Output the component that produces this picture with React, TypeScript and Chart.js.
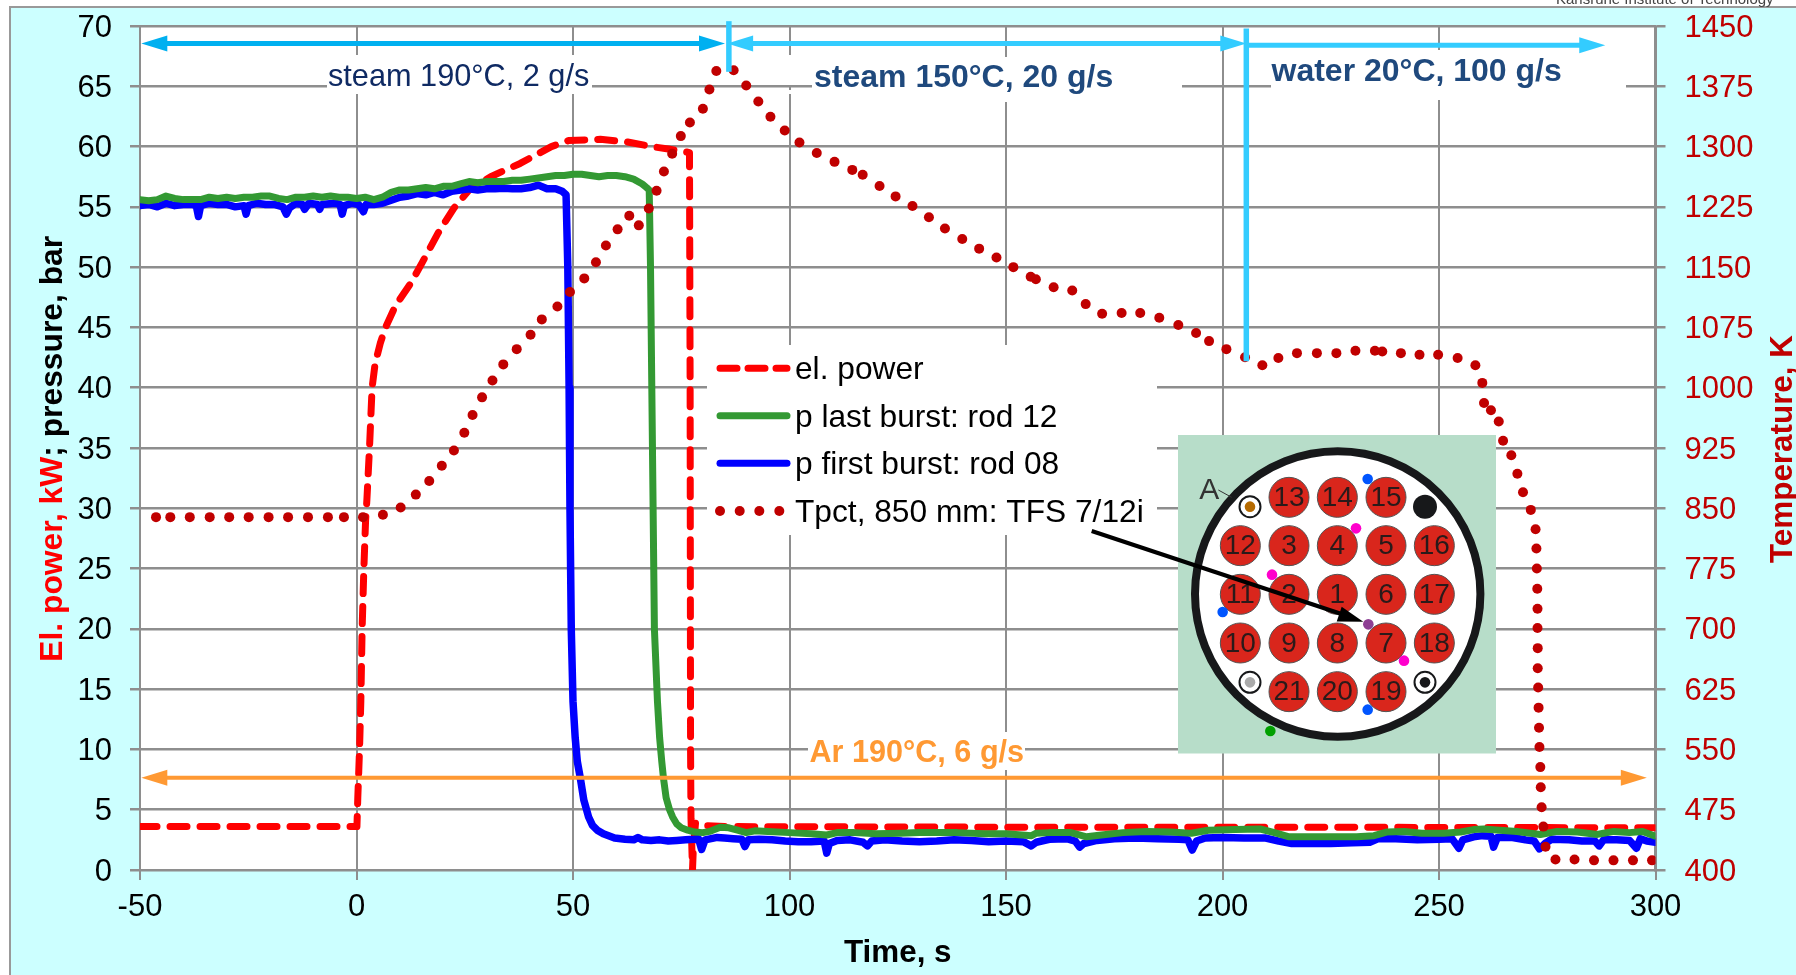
import React, { useEffect, useRef } from "react";
import { Chart, registerables } from "chart.js";

Chart.register(...registerables);

const FONT = '"Liberation Sans", Arial, sans-serif';

const powerTime = [-50, 0, 0.1, 0.3, 0.7, 1, 1.3, 1.7, 2.1, 2.4, 3, 3.6, 4.3, 5.5, 6.7, 9, 12.6, 15.2, 18.8, 22.5, 26, 31, 34, 37.8, 45, 49, 56.3, 62.3, 68.2, 72, 75.5, 76.9, 77.05, 77.15, 77.25, 77.6, 77.8, 78.3, 80, 85, 150, 220, 300];
const powerValue = [3.6, 3.6, 3.6, 6, 10, 14, 20, 25, 29, 30.7, 35, 40, 42, 43.7, 45, 46.8, 48.7, 50.4, 52.8, 54.9, 56.4, 57.5, 58, 58.6, 60, 60.5, 60.6, 60.4, 60, 59.8, 59.6, 59.5, 40, 10, 4.3, 0, 1.9, 3.9, 3.7, 3.6, 3.55, 3.55, 3.5];

const lastBurstTime = [-50, -48, -46, -44, -42, -40, -38, -36, -34, -32, -30, -28, -26, -24, -22, -20, -18, -16, -14, -12, -10, -8, -6, -4, -2, 0, 2, 4, 6, 8, 10, 12, 14, 16, 18, 20, 22, 24, 26, 28, 30, 32, 34, 36, 38, 40, 42, 44, 46, 48, 50, 52, 54, 56, 58, 60, 62, 64, 66, 67, 67.6, 67.9, 68.2, 68.5, 68.8, 69.5, 70, 70.5, 70.9, 71.5, 72.3, 73, 74, 75, 76.5, 78.1, 80, 81.5, 84, 86, 88, 90, 92, 95, 100, 105, 108.6, 111, 115, 120, 125.6, 130, 138.8, 145, 150, 155.9, 157, 160, 165, 168.6, 172, 177, 182.5, 188, 192.8, 196.7, 203, 208.7, 212, 215.4, 222, 231, 235, 237.9, 242, 246, 251, 255, 258, 260.3, 264, 268, 273.4, 277.3, 282, 286.6, 288, 290.4, 294, 297, 300];
const lastBurstValue = [55.6, 55.5, 55.6, 55.9, 55.7, 55.6, 55.6, 55.6, 55.8, 55.7, 55.8, 55.7, 55.8, 55.8, 55.9, 55.9, 55.7, 55.6, 55.8, 55.8, 55.9, 55.8, 55.9, 55.8, 55.8, 55.7, 55.8, 55.6, 55.8, 56.2, 56.4, 56.4, 56.5, 56.6, 56.5, 56.7, 56.7, 56.9, 57.1, 57, 57.1, 57.1, 57.1, 57.2, 57.2, 57.3, 57.4, 57.5, 57.6, 57.6, 57.7, 57.7, 57.6, 57.5, 57.6, 57.6, 57.5, 57.3, 56.9, 56.6, 56.4, 50, 40, 30, 20, 14, 11, 9, 7.6, 6, 5, 4.4, 3.8, 3.5, 3.3, 3.15, 3.1, 3.2, 3.55, 3.5, 3.3, 3.1, 3.25, 3.2, 3.1, 3, 2.9, 3.1, 3.1, 3, 3.05, 3.1, 3.1, 3, 3, 2.85, 3.05, 3.1, 3.1, 2.75, 2.9, 3.1, 3.2, 3.15, 3.05, 3.3, 3.35, 3.4, 3.1, 2.75, 2.75, 2.75, 2.85, 3.15, 3.2, 3.05, 3.05, 3.15, 3.35, 3.4, 3.3, 3.2, 2.95, 3.2, 3.15, 2.95, 3.05, 3.2, 3.1, 3.2, 2.8];

const firstBurstTime = [-50, -48, -46, -44, -42, -40, -38, -37, -36.5, -36, -34, -32, -30, -28, -26, -25.5, -25, -23, -21, -19, -17, -16.2, -15.5, -14, -12.5, -12, -11, -9, -8.5, -8, -5, -3.8, -3.3, -2.8, -1, 0.5, 1.6, 2.2, 4, 6, 8, 10, 12, 14, 16, 18, 20, 22, 24, 26, 28, 30, 32, 34, 36, 38, 40, 42, 44, 46, 47.5, 48.4, 48.8, 49.1, 49.3, 49.6, 50, 50.5, 51, 51.7, 52.5, 53.6, 54.5, 55.6, 57, 59.6, 62, 64, 65, 66, 68, 70, 72, 74, 76, 78, 79, 79.7, 80.5, 83.3, 85, 87, 89, 89.7, 90.5, 93, 96, 99, 102, 105, 108, 108.6, 109.2, 111, 114, 117, 118, 119, 122, 126, 130, 134, 138, 142, 146, 150, 154, 155.8, 157, 160, 164, 166, 167, 168, 171, 175, 180, 185, 190, 192, 193, 194, 196, 200, 205, 210, 213, 216, 220, 225, 230, 234, 236, 240, 245, 250, 253, 254.6, 255.5, 258, 260, 262, 262.6, 263.5, 267, 270, 272, 273.2, 274.5, 276, 280, 283, 286, 287, 288, 291, 294, 295.6, 296.5, 298, 300];
const firstBurstValue = [55.1, 55.2, 55, 55.3, 55.1, 55.2, 55.2, 55.1, 54.2, 55.1, 55.3, 55.2, 55.2, 55, 55.1, 54.4, 55.1, 55.3, 55.2, 55.2, 55, 54.4, 54.9, 55.3, 55.2, 54.8, 55.3, 55.2, 54.8, 55.2, 55.3, 55.2, 54.4, 55.1, 55.3, 55.2, 54.6, 55.2, 55.2, 55.3, 55.55, 55.8, 55.9, 56.1, 56, 56.2, 56, 56.3, 56.4, 56.5, 56.4, 56.5, 56.5, 56.55, 56.5, 56.5, 56.6, 56.8, 56.5, 56.5, 56.3, 56, 50, 40, 30, 20, 14, 11, 9, 7.6, 5.8, 4.4, 3.7, 3.3, 3, 2.65, 2.55, 2.5, 2.7, 2.5, 2.45, 2.5, 2.4, 2.45, 2.5, 2.55, 2.6, 1.7, 2.5, 2.7, 2.65, 2.6, 2.55, 1.95, 2.5, 2.55, 2.5, 2.4, 2.35, 2.35, 2.4, 1.4, 2.2, 2.45, 2.5, 2.3, 2, 2.4, 2.5, 2.4, 2.35, 2.4, 2.5, 2.45, 2.35, 2.4, 2.35, 2, 2.3, 2.55, 2.6, 2.4, 1.9, 2.2, 2.45, 2.6, 2.65, 2.6, 2.55, 2.5, 1.65, 2.4, 2.65, 2.7, 2.65, 2.65, 2.4, 2.2, 2.2, 2.2, 2.25, 2.3, 2.6, 2.6, 2.5, 2.55, 2.6, 1.8, 2.5, 2.75, 2.85, 2.8, 1.9, 2.7, 2.7, 2.5, 2.4, 1.75, 2.2, 2.55, 2.5, 2.4, 2.4, 2, 2.5, 2.5, 2.45, 1.8, 2.6, 2.4, 2.3];

const tpctTime = [-46.3, -43, -38.5, -33.9, -29.4, -24.9, -20.3, -15.8, -11.2, -6.6, -2.9, 1.5, 6.1, 10.2, 13.7, 16.8, 19.7, 22.5, 24.9, 26.8, 29, 31.4, 33.9, 37, 40.2, 42.8, 46.4, 49.3, 52.6, 55.3, 57.6, 60.3, 63, 65.2, 67.5, 69.3, 71, 72.9, 74.9, 77, 80, 81.5, 83.1, 87.1, 90, 92.8, 95.6, 98.9, 102.3, 106.3, 110.4, 114.5, 116.9, 120.8, 124.5, 128.4, 132.2, 135.9, 139.9, 143.8, 147.8, 151.7, 155.7, 156.9, 161, 165.3, 168.4, 172.2, 176.7, 181, 185.4, 189.8, 193.9, 196.9, 200.9, 205.2, 209.2, 212.9, 217.2, 221.8, 226.3, 230.7, 235.2, 236.9, 241.2, 245.5, 249.8, 254.3, 258.4, 260, 260.4, 262, 263.8, 264.8, 266.7, 268.1, 269.4, 271.2, 272.3, 272.5, 272.6, 272.7, 272.75, 272.75, 272.8, 272.8, 272.9, 273, 273.1, 273.2, 273.4, 273.5, 273.7, 274.1, 274.6, 276.9, 281.3, 285.8, 290.3, 294.8, 299.2];
const tpctValue = [839, 839, 839, 839, 839, 839, 839, 839, 839, 839, 839, 839, 842, 851, 867, 884, 903, 922, 944, 966, 988, 1009, 1029, 1048, 1066, 1085, 1101, 1119, 1136, 1156, 1177, 1197, 1214, 1202, 1223, 1245, 1269, 1291, 1313, 1330, 1347, 1371, 1394, 1395, 1376, 1356, 1337, 1320, 1305, 1292, 1281, 1271, 1265, 1251, 1238, 1226, 1212, 1198, 1185, 1173, 1162, 1150, 1138, 1135, 1125, 1121, 1104, 1092, 1093, 1093, 1087, 1078, 1068, 1058, 1048, 1038, 1028, 1037, 1043, 1043, 1043, 1046, 1046, 1045, 1043, 1041, 1041, 1037, 1028, 1006, 981, 972, 958, 934, 916, 893, 870, 848, 824, 800, 775, 750, 725, 701, 676, 651, 627, 602, 577, 553, 528, 503, 478, 454, 429, 413, 413, 412, 412, 412, 412];

const timeTicks = [-50, 0, 50, 100, 150, 200, 250, 300];
const rodRows = [
  [null, "13", "14", "15", null],
  ["12", "3", "4", "5", "16"],
  ["11", "2", "1", "6", "17"],
  ["10", "9", "8", "7", "18"],
  [null, "21", "20", "19", null],
];
const legendLabels = ["el. power", "p last burst: rod 12", "p first burst: rod 08", "Tpct, 850 mm: TFS 7/12i"];

const points = (xs: number[], ys: number[]) => xs.map((x, i) => ({ x, y: ys[i] }));

function head(ctx: CanvasRenderingContext2D, tipX: number, tipY: number, dir: number, color: string) {
  ctx.fillStyle = color;
  ctx.beginPath();
  ctx.moveTo(tipX, tipY);
  ctx.lineTo(tipX - dir * 26, tipY - 8);
  ctx.lineTo(tipX - dir * 26, tipY + 8);
  ctx.closePath();
  ctx.fill();
}

function hArrow(chart: any, t1: number, t2: number, level: number, color: string, width: number, both: boolean) {
  const { ctx, scales } = chart;
  const a = scales.x.getPixelForValue(t1);
  const b = scales.x.getPixelForValue(t2);
  const y = scales.y.getPixelForValue(level);
  ctx.strokeStyle = color;
  ctx.lineWidth = width;
  ctx.beginPath();
  ctx.moveTo(a + (both ? 20 : 0), y);
  ctx.lineTo(b - 20, y);
  ctx.stroke();
  head(ctx, b, y, 1, color);
  if (both) head(ctx, a, y, -1, color);
}

function vMark(chart: any, t: number, from: number, to: number, color: string) {
  const { ctx, scales } = chart;
  const x = scales.x.getPixelForValue(t);
  ctx.strokeStyle = color;
  ctx.lineWidth = 5.5;
  ctx.beginPath();
  ctx.moveTo(x, scales.y.getPixelForValue(from));
  ctx.lineTo(x, scales.y.getPixelForValue(to));
  ctx.stroke();
}

function label(ctx: CanvasRenderingContext2D, text: string, x: number, y: number, font: string, color: string) {
  ctx.font = font;
  ctx.fillStyle = color;
  ctx.textAlign = "left";
  ctx.textBaseline = "alphabetic";
  ctx.fillText(text, x, y);
}

function drawInset(ctx: CanvasRenderingContext2D) {
  const zx = (v: number) => 1150 + v / 3;
  const zy = (v: number) => 420 + v / 3;
  ctx.fillStyle = "#B7DDC9";
  ctx.fillRect(1178, 435, 318, 318.5);
  ctx.beginPath();
  ctx.arc(1337.7, 594, 142.7, 0, Math.PI * 2);
  ctx.fillStyle = "#FFFFFF";
  ctx.fill();
  ctx.strokeStyle = "#17181A";
  ctx.lineWidth = 8;
  ctx.stroke();

  const cols = [271, 417, 562, 708, 853];
  const rows = [232, 377, 523, 669, 815];
  ctx.textAlign = "center";
  ctx.textBaseline = "middle";
  rodRows.forEach((row, r) =>
    row.forEach((name, c) => {
      if (!name) return;
      ctx.beginPath();
      ctx.arc(zx(cols[c]), zy(rows[r]), 20, 0, Math.PI * 2);
      ctx.fillStyle = "#D9261C";
      ctx.fill();
      ctx.strokeStyle = "#555555";
      ctx.lineWidth = 1;
      ctx.stroke();
      ctx.fillStyle = "#2A1A1A";
      ctx.font = `28px ${FONT}`;
      ctx.fillText(name, zx(cols[c]), zy(rows[r]) + 1);
    })
  );

  const ring = (x: number, y: number, fill: string) => {
    ctx.beginPath();
    ctx.arc(zx(x), zy(y), 10.5, 0, Math.PI * 2);
    ctx.fillStyle = "#FFFFFF";
    ctx.fill();
    ctx.strokeStyle = "#17181A";
    ctx.lineWidth = 2;
    ctx.stroke();
    ctx.beginPath();
    ctx.arc(zx(x), zy(y), 5.3, 0, Math.PI * 2);
    ctx.fillStyle = fill;
    ctx.fill();
  };
  ring(300, 260, "#B56A00");
  ring(300, 787, "#AAAAAA");
  ring(825, 787, "#17181A");
  const dot = (x: number, y: number, r: number, fill: string) => {
    ctx.beginPath();
    ctx.arc(zx(x), zy(y), r, 0, Math.PI * 2);
    ctx.fillStyle = fill;
    ctx.fill();
  };
  dot(825, 260, 12, "#17181A");
  dot(653, 177, 5.3, "#0055FF");
  dot(218, 576, 5.3, "#0055FF");
  dot(653, 869, 5.3, "#0055FF");
  dot(618, 325, 5.3, "#FF00CC");
  dot(366, 464, 5.3, "#FF00CC");
  dot(762, 722, 5.3, "#FF00CC");
  dot(655, 613, 5.3, "#8E3F94");
  dot(361, 933, 5.3, "#00A000");

  ctx.strokeStyle = "#333333";
  ctx.lineWidth = 1;
  ctx.beginPath();
  ctx.moveTo(zx(205), zy(210));
  ctx.lineTo(zx(245), zy(232));
  ctx.stroke();
  label(ctx, "A", zx(148), zy(236), `30px ${FONT}`, "#333333");
}

const paperPlugin = {
  id: "paper",
  beforeDraw(chart: any) {
    const { ctx, chartArea: a } = chart;
    ctx.save();
    ctx.fillStyle = "#FFFFFF";
    ctx.fillRect(0, 0, 1796, 975);
    ctx.fillStyle = "#CCFFFF";
    ctx.fillRect(10, 7, 1786, 968);
    ctx.fillStyle = "#999999";
    ctx.fillRect(9, 6, 1787, 2);
    ctx.fillRect(9, 6, 2, 969);
    ctx.fillStyle = "#FFFFFF";
    ctx.fillRect(a.left, a.top, a.right - a.left, a.bottom - a.top);
    label(ctx, "Karlsruhe Institute of Technology", 1556, 3.5, `15px ${FONT}`, "#444444");
    ctx.restore();
  },
  beforeDatasetsDraw(chart: any) {
    const { ctx } = chart;
    ctx.save();
    ctx.fillStyle = "#FFFFFF";
    ctx.fillRect(707, 345, 450, 190);
    ctx.fillRect(327, 55, 265, 39);
    ctx.fillRect(812, 57, 370, 45);
    ctx.fillRect(1271, 50, 355, 50);
    ctx.fillRect(808, 732, 217, 38);
    ctx.fillRect(786, 55, 6, 30);
    ctx.fillRect(786, 90, 6, 4);
    drawInset(ctx);
    ctx.restore();
  },
  afterDatasetsDraw(chart: any) {
    const { ctx } = chart;
    ctx.save();
    ctx.lineCap = "butt";
    hArrow(chart, -49.7, 85.1, 68.55, "#00B0F0", 5, true);
    hArrow(chart, 85.6, 205.5, 68.55, "#33CCFF", 5, true);
    hArrow(chart, 205.5, 288.4, 68.4, "#33CCFF", 5, false);
    hArrow(chart, -49.7, 298, 7.65, "#FF9933", 4, true);
    vMark(chart, 86, 70.4, 66.2, "#33CCFF");
    vMark(chart, 205.5, 69.8, 42.2, "#33CCFF");

    label(ctx, "steam 190°C, 2 g/s", 328, 86, `30.7px ${FONT}`, "#0F2A63");
    label(ctx, "steam 150°C, 20 g/s", 814, 87, `bold 32px ${FONT}`, "#1F497D");
    label(ctx, "water 20°C, 100 g/s", 1271.5, 81, `bold 32px ${FONT}`, "#1F497D");
    label(ctx, "Ar 190°C, 6 g/s", 809.5, 762, `bold 30.6px ${FONT}`, "#FF9933");

    // legend
    const ly = [368.3, 415.7, 463.3, 511];
    const font = `31.7px ${FONT}`;
    legendLabels.forEach((t, i) => label(ctx, t, 795, ly[i] + 11, font, "#000000"));
    ctx.lineCap = "round";
    ctx.lineWidth = 7;
    ctx.strokeStyle = "#FF0000";
    ctx.setLineDash([17, 11]);
    ctx.beginPath();
    ctx.moveTo(720, ly[0]);
    ctx.lineTo(787, ly[0]);
    ctx.stroke();
    ctx.setLineDash([]);
    ctx.strokeStyle = "#339933";
    ctx.beginPath();
    ctx.moveTo(720, ly[1]);
    ctx.lineTo(787, ly[1]);
    ctx.stroke();
    ctx.strokeStyle = "#0000FF";
    ctx.beginPath();
    ctx.moveTo(720, ly[2]);
    ctx.lineTo(787, ly[2]);
    ctx.stroke();
    ctx.fillStyle = "#C00000";
    [720, 739.7, 759.3, 779.3].forEach((x) => {
      ctx.beginPath();
      ctx.arc(x, ly[3], 5, 0, Math.PI * 2);
      ctx.fill();
    });

    // pointer into the rod map
    ctx.lineCap = "butt";
    ctx.strokeStyle = "#000000";
    ctx.lineWidth = 4;
    ctx.beginPath();
    ctx.moveTo(1091.7, 531);
    ctx.lineTo(1340, 613.5);
    ctx.stroke();
    ctx.fillStyle = "#000000";
    ctx.beginPath();
    ctx.moveTo(1363.3, 621.7);
    ctx.lineTo(1341.7, 606.7);
    ctx.lineTo(1336.7, 621.5);
    ctx.closePath();
    ctx.fill();

    // left axis title, two colours
    ctx.save();
    ctx.translate(62, 661.7);
    ctx.rotate(-Math.PI / 2);
    ctx.font = `bold 31.8px ${FONT}`;
    ctx.textAlign = "left";
    ctx.textBaseline = "alphabetic";
    ctx.fillStyle = "#FF0000";
    const red = "El. power, kW";
    ctx.fillText(red, 0, 0);
    ctx.fillStyle = "#000000";
    ctx.fillText("; pressure, bar", ctx.measureText(red).width, 0);
    ctx.restore();

    // right axis title, reading upwards like the left one
    ctx.translate(1791.7, 563);
    ctx.rotate(-Math.PI / 2);
    ctx.font = `bold 31.4px ${FONT}`;
    ctx.textAlign = "left";
    ctx.textBaseline = "alphabetic";
    ctx.fillStyle = "#C00000";
    ctx.fillText("Temperature, K", 0, 0);
    ctx.restore();
  },
};

export default function App() {
  const ref = useRef<HTMLCanvasElement>(null);
  useEffect(() => {
    document.body.style.margin = "0";
    const gridColor = "#8E8E8E";
    const chart = new Chart(ref.current as HTMLCanvasElement, {
      type: "line",
      data: {
        datasets: [
          {
            label: "Tpct, 850 mm: TFS 7/12i",
            yAxisID: "y1",
            data: points(tpctTime, tpctValue),
            showLine: false,
            pointRadius: 5,
            pointHoverRadius: 5,
            pointBackgroundColor: "#C00000",
            pointBorderWidth: 0,
            borderColor: "#C00000",
            order: 1,
          },
          {
            label: "p last burst: rod 12",
            yAxisID: "y",
            data: points(lastBurstTime, lastBurstValue),
            borderColor: "#339933",
            borderWidth: 7,
            pointRadius: 0,
            tension: 0,
            borderJoinStyle: "round",
            borderCapStyle: "round",
            order: 2,
          },
          {
            label: "p first burst: rod 08",
            yAxisID: "y",
            data: points(firstBurstTime, firstBurstValue),
            borderColor: "#0000FF",
            borderWidth: 7.5,
            pointRadius: 0,
            tension: 0,
            borderJoinStyle: "round",
            borderCapStyle: "round",
            order: 3,
          },
          {
            label: "el. power",
            yAxisID: "y",
            data: points(powerTime, powerValue),
            borderColor: "#FF0000",
            borderWidth: 7,
            borderDash: [17, 13],
            borderCapStyle: "round",
            borderJoinStyle: "round",
            pointRadius: 0,
            tension: 0,
            order: 4,
          },
        ],
      },
      options: {
        responsive: false,
        animation: false,
        layout: { padding: { top: 26, left: 0, right: 0, bottom: 0 } },
        plugins: { legend: { display: false }, tooltip: { enabled: false } },
        scales: {
          x: {
            type: "linear",
            min: -50,
            max: 300,
            afterBuildTicks: (s: any) => {
              s.ticks = timeTicks.map((value) => ({ value }));
            },
            afterFit: (s: any) => {
              s.height = 105;
              s.paddingLeft = 0;
              s.paddingRight = 0;
            },
            grid: { color: gridColor, lineWidth: 2, tickLength: 10 },
            border: { color: gridColor, width: 2 },
            ticks: { color: "#000000", font: { family: FONT, size: 31 }, padding: 9, maxRotation: 0, autoSkip: false },
            title: {
              display: true,
              text: "Time, s",
              color: "#000000",
              font: { family: FONT, size: 31.4, weight: "bold", lineHeight: 1.2 },
              padding: { top: 0, bottom: 3 },
            },
          },
          y: {
            position: "left",
            min: 0,
            max: 70,
            afterFit: (s: any) => {
              s.width = 140;
              s.paddingTop = 0;
              s.paddingBottom = 0;
            },
            grid: { color: gridColor, lineWidth: 2.5, tickLength: 10 },
            border: { color: gridColor, width: 2 },
            ticks: { stepSize: 5, color: "#000000", font: { family: FONT, size: 31 }, padding: 18, labelOffset: 2 },
          },
          y1: {
            position: "right",
            min: 400,
            max: 1450,
            afterFit: (s: any) => {
              s.width = 140.5;
              s.paddingTop = 0;
              s.paddingBottom = 0;
            },
            grid: { color: gridColor, lineWidth: 2.5, tickLength: 10, drawOnChartArea: false },
            border: { color: gridColor, width: 2.5 },
            ticks: {
              stepSize: 75,
              color: "#C00000",
              font: { family: FONT, size: 31 },
              padding: 19,
              labelOffset: 2,
              callback: (v: any) => String(v),
            },
          },
        },
      },
      plugins: [paperPlugin],
    } as any);
    return () => chart.destroy();
  }, []);
  return (
    <canvas
      ref={ref}
      width={1796}
      height={975}
      style={{ position: "absolute", left: 0, top: 0, display: "block", width: 1796, height: 975 }}
    />
  );
}
